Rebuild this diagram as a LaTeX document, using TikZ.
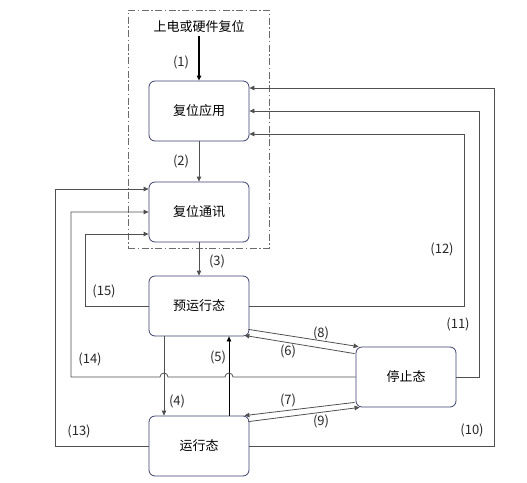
\documentclass[tikz,border=0pt]{standalone}
\usepackage{fontspec}
\newfontfamily\cjk{Noto Sans CJK SC}
\usetikzlibrary{arrows.meta,calc}
\definecolor{boxline}{HTML}{3C4170}
\definecolor{conn}{HTML}{505050}
\begin{document}
\begin{tikzpicture}[x=1pt,y=-1pt,font=\cjk,
  statebox/.style={draw=boxline,line width=0.8pt,rounded corners=6pt,minimum width=100pt,minimum height=60pt,font=\cjk\fontsize{13}{15}\selectfont},
  conline/.style={draw=conn,line width=0.8pt},
  arr/.style={conline,-{Triangle[length=5pt,width=4.5pt]}},
  lab/.style={font=\cjk\fontsize{13}{15}\selectfont,inner sep=0pt,text=black!85},
  groupbox/.style={draw=gray!85!black,line width=0.8pt,dash pattern=on 7pt off 2.5pt on 1.5pt off 2.5pt}]
\useasboundingbox (0,0) rectangle (527,482);
\node[groupbox,minimum width=141pt,minimum height=238pt,inner sep=0pt] (group) at (198.5,129) {};
\node[font=\cjk\fontsize{13}{15}\selectfont,inner sep=1pt] (title) at (199,27) {上电或硬件复位};
\node[statebox] (app) at (199,111) {复位应用};
\node[statebox] (comm) at (199,212) {复位通讯};
\node[statebox] (pre) at (199,306) {预运行态};
\node[statebox] (run) at (199,446) {运行态};
\node[statebox] (stop) at (406,377) {停止态};
% vertical arrows
\draw[arr,draw=black,line width=1.5pt,shorten <=2pt] (title.south) -- (app.north);
\draw[arr] (app.south) -- (comm.north);
\draw[arr] (comm.south) -- (pre.north);
\draw[arr] ($(pre.south)+(-35,0)$) -- ($(run.north)+(-35,0)$);
\draw[arr,draw=black] ($(run.north)+(30,0)$) -- ($(pre.south)+(30,0)$);
% diagonal arrows
\draw[arr] ($(pre.south east)+(-1,-7)$) -- ($(stop.north west)+(3,0)$);
\draw[arr] ($(stop.north west)+(-1,7)$) -- ($(pre.south east)+(-5,-1)$);
\draw[arr] ($(stop.south west)+(-1,-5)$) -- ($(run.north east)+(-5,0)$);
\draw[arr] ($(run.north east)+(-1,6)$) -- ($(stop.south west)+(4,0)$);
% right loops
\draw[arr] (run.east) -- ++(245,0) |- ($(app.east)+(0,-23)$);
\draw[arr] (stop.east) -- ++(23,0) |- (app.east);
\draw[arr] (pre.east) -- ++(215,0) |- ($(app.east)+(0,23)$);
% left loops
\draw[arr] (run.west) -- ++(-93,0) |- ($(comm.west)+(0,-23)$);
\draw[arr] (stop.west) -- (233,377) arc[start angle=0,end angle=180,radius=4pt] -- (168,377) arc[start angle=0,end angle=180,radius=4pt] -- (71,377) |- (comm.west);
\draw[arr] (pre.west) -- ++(-63,0) |- ($(comm.west)+(0,22)$);
% labels
\node[lab] (l1) at (181,62) {(1)};
\node[lab] (l2) at (181,161) {(2)};
\node[lab] (l3) at (217,261) {(3)};
\node[lab] (l4) at (177,401) {(4)};
\node[lab] (l5) at (218,357) {(5)};
\node[lab] (l6) at (288,351) {(6)};
\node[lab] (l7) at (288,400) {(7)};
\node[lab] (l8) at (321,333) {(8)};
\node[lab] (l9) at (321,421) {(9)};
\node[lab] (l10) at (472,430) {(10)};
\node[lab] (l11) at (458,324) {(11)};
\node[lab] (l12) at (442,249) {(12)};
\node[lab] (l13) at (79,431) {(13)};
\node[lab] (l14) at (90,359) {(14)};
\node[lab] (l15) at (104,291) {(15)};
\end{tikzpicture}
\end{document}
